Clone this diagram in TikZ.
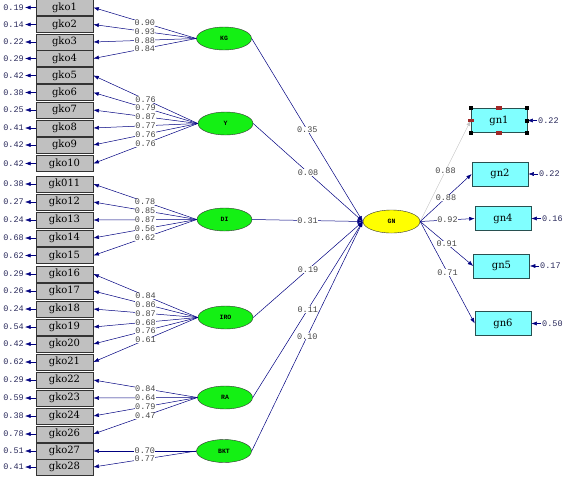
\documentclass[tikz,border=0pt]{standalone}
\usepackage{fontspec}
\setmainfont{DejaVu Serif}
\newfontfamily\numfont{Liberation Mono}
\usetikzlibrary{shapes.geometric,arrows.meta}
\definecolor{pathblue}{RGB}{0,0,128}
\definecolor{boxgray}{RGB}{192,192,192}
\definecolor{latgreen}{RGB}{20,240,20}
\definecolor{gnyellow}{RGB}{255,255,0}
\definecolor{gncyan}{RGB}{128,255,255}
\definecolor{coefgray}{RGB}{70,70,70}
\definecolor{errblue}{RGB}{40,40,90}
\definecolor{handlered}{RGB}{160,40,40}
\begin{document}
\begin{tikzpicture}[x=1pt, y=-1pt,
    obs/.style = {draw=black!80, line width=0.8pt, fill=boxgray, minimum width=57pt, minimum height=16pt, inner sep=0pt, font=\fontsize{10}{10}\selectfont},
    outv/.style = {draw={rgb,255:red,40;green,80;blue,80}, line width=0.6pt, fill=gncyan, minimum width=56pt, minimum height=24pt, inner sep=0pt, font=\fontsize{10}{10}\selectfont},
    lat/.style = {draw=black!80, ellipse, fill=latgreen, minimum width=55pt, minimum height=23pt, inner sep=0pt, font=\numfont\bfseries\fontsize{6.5}{6.5}\selectfont},
    err/.style = {text=errblue, inner sep=1pt, font=\numfont\fontsize{8.5}{8.5}\selectfont},
    coef/.style = {fill=white, text=coefgray, inner sep=0.3pt, font=\numfont\fontsize{8.5}{8.5}\selectfont},
    load/.style = {draw=pathblue, line width=0.5pt, -{Latex[length=5.5pt,width=4pt]}}]

    \useasboundingbox (0,0) rectangle (572,480);

    % indicators
    \node[obs] (gko1) at (64.5,7.5) {gko1};
    \node[obs] (gko2) at (64.5,24.5) {gko2};
    \node[obs] (gko3) at (64.5,42) {gko3};
    \node[obs] (gko4) at (64.5,58.5) {gko4};
    \node[obs] (gko5) at (64.5,75.5) {gko5};
    \node[obs] (gko6) at (64.5,92.5) {gko6};
    \node[obs] (gko7) at (64.5,110) {gko7};
    \node[obs] (gko8) at (64.5,128) {gko8};
    \node[obs] (gko9) at (64.5,145) {gko9};
    \node[obs] (gko10) at (64.5,163.5) {gko10};
    \node[obs] (gk011) at (64.5,184) {gk011};
    \node[obs] (gko12) at (64.5,202) {gko12};
    \node[obs] (gko13) at (64.5,220) {gko13};
    \node[obs] (gko14) at (64.5,238) {gko14};
    \node[obs] (gko15) at (64.5,255.5) {gko15};
    \node[obs] (gko16) at (64.5,274) {gko16};
    \node[obs] (gko17) at (64.5,291) {gko17};
    \node[obs] (gko18) at (64.5,309) {gko18};
    \node[obs] (gko19) at (64.5,327) {gko19};
    \node[obs] (gko20) at (64.5,344) {gko20};
    \node[obs] (gko21) at (64.5,362) {gko21};
    \node[obs] (gko22) at (64.5,380) {gko22};
    \node[obs] (gko23) at (64.5,398) {gko23};
    \node[obs] (gko24) at (64.5,416) {gko24};
    \node[obs] (gko26) at (64.5,434) {gko26};
    \node[obs] (gko27) at (64.5,451) {gko27};
    \node[obs] (gko28) at (64.5,467) {gko28};

    % error variances
    \node[err, anchor=east] (e1) at (25,7.5) {0.19};
    \node[err, anchor=east] (e2) at (25,24.5) {0.14};
    \node[err, anchor=east] (e3) at (25,42) {0.22};
    \node[err, anchor=east] (e4) at (25,58.5) {0.29};
    \node[err, anchor=east] (e5) at (25,75.5) {0.42};
    \node[err, anchor=east] (e6) at (25,92.5) {0.38};
    \node[err, anchor=east] (e7) at (25,110) {0.25};
    \node[err, anchor=east] (e8) at (25,128) {0.41};
    \node[err, anchor=east] (e9) at (25,145) {0.42};
    \node[err, anchor=east] (e10) at (25,163.5) {0.42};
    \node[err, anchor=east] (e11) at (25,184) {0.38};
    \node[err, anchor=east] (e12) at (25,202) {0.27};
    \node[err, anchor=east] (e13) at (25,220) {0.24};
    \node[err, anchor=east] (e14) at (25,238) {0.68};
    \node[err, anchor=east] (e15) at (25,255.5) {0.62};
    \node[err, anchor=east] (e16) at (25,274) {0.29};
    \node[err, anchor=east] (e17) at (25,291) {0.26};
    \node[err, anchor=east] (e18) at (25,309) {0.24};
    \node[err, anchor=east] (e19) at (25,327) {0.54};
    \node[err, anchor=east] (e20) at (25,344) {0.42};
    \node[err, anchor=east] (e21) at (25,362) {0.62};
    \node[err, anchor=east] (e22) at (25,380) {0.29};
    \node[err, anchor=east] (e23) at (25,398) {0.59};
    \node[err, anchor=east] (e24) at (25,416) {0.38};
    \node[err, anchor=east] (e26) at (25,434) {0.78};
    \node[err, anchor=east] (e27) at (25,451) {0.51};
    \node[err, anchor=east] (e28) at (25,467) {0.41};

    \draw[load] (gko1.west) -- (e1.east);
    \draw[load] (gko2.west) -- (e2.east);
    \draw[load] (gko3.west) -- (e3.east);
    \draw[load] (gko4.west) -- (e4.east);
    \draw[load] (gko5.west) -- (e5.east);
    \draw[load] (gko6.west) -- (e6.east);
    \draw[load] (gko7.west) -- (e7.east);
    \draw[load] (gko8.west) -- (e8.east);
    \draw[load] (gko9.west) -- (e9.east);
    \draw[load] (gko10.west) -- (e10.east);
    \draw[load] (gk011.west) -- (e11.east);
    \draw[load] (gko12.west) -- (e12.east);
    \draw[load] (gko13.west) -- (e13.east);
    \draw[load] (gko14.west) -- (e14.east);
    \draw[load] (gko15.west) -- (e15.east);
    \draw[load] (gko16.west) -- (e16.east);
    \draw[load] (gko17.west) -- (e17.east);
    \draw[load] (gko18.west) -- (e18.east);
    \draw[load] (gko19.west) -- (e19.east);
    \draw[load] (gko20.west) -- (e20.east);
    \draw[load] (gko21.west) -- (e21.east);
    \draw[load] (gko22.west) -- (e22.east);
    \draw[load] (gko23.west) -- (e23.east);
    \draw[load] (gko24.west) -- (e24.east);
    \draw[load] (gko26.west) -- (e26.east);
    \draw[load] (gko27.west) -- (e27.east);
    \draw[load] (gko28.west) -- (e28.east);

    % latent variables
    \node[lat] (KG) at (224,38.5) {KG};
    \node[lat] (Y) at (225.5,123.5) {Y};
    \node[lat] (DI) at (224.5,219.5) {DI};
    \node[lat] (IRO) at (225.5,317.5) {IRO};
    \node[lat] (RA) at (225,397.5) {RA};
    \node[lat] (BKT) at (224,451) {BKT};
    \node[lat, fill=gnyellow, minimum width=57pt] (GN) at (391.5,221.5) {GN};

    \draw[load] (KG.west) -- node[coef] {0.90} (gko1.east);
    \draw[load] (KG.west) -- node[coef] {0.93} (gko2.east);
    \draw[load] (KG.west) -- node[coef] {0.88} (gko3.east);
    \draw[load] (KG.west) -- node[coef] {0.84} (gko4.east);

    \draw[load] (Y.west) -- node[coef] {0.76} (gko5.east);
    \draw[load] (Y.west) -- node[coef] {0.79} (gko6.east);
    \draw[load] (Y.west) -- node[coef] {0.87} (gko7.east);
    \draw[load] (Y.west) -- node[coef] {0.77} (gko8.east);
    \draw[load] (Y.west) -- node[coef] {0.76} (gko9.east);
    \draw[load] (Y.west) -- node[coef] {0.76} (gko10.east);

    \draw[load] (DI.west) -- node[coef] {0.78} (gk011.east);
    \draw[load] (DI.west) -- node[coef] {0.85} (gko12.east);
    \draw[load] (DI.west) -- node[coef] {0.87} (gko13.east);
    \draw[load] (DI.west) -- node[coef] {0.56} (gko14.east);
    \draw[load] (DI.west) -- node[coef] {0.62} (gko15.east);

    \draw[load] (IRO.west) -- node[coef] {0.84} (gko16.east);
    \draw[load] (IRO.west) -- node[coef] {0.86} (gko17.east);
    \draw[load] (IRO.west) -- node[coef] {0.87} (gko18.east);
    \draw[load] (IRO.west) -- node[coef] {0.68} (gko19.east);
    \draw[load] (IRO.west) -- node[coef] {0.76} (gko20.east);
    \draw[load] (IRO.west) -- node[coef] {0.61} (gko21.east);

    \draw[load] (RA.west) -- node[coef] {0.84} (gko22.east);
    \draw[load] (RA.west) -- node[coef] {0.64} (gko23.east);
    \draw[load] (RA.west) -- node[coef] {0.79} (gko24.east);
    \draw[load] (RA.west) -- node[coef] {0.47} (gko26.east);

    \draw[load] (BKT.west) -- node[coef] {0.70} (gko27.east);
    \draw[load] (BKT.west) -- node[coef] {0.77} (gko28.east);

    % structural paths
    \draw[load] (KG.east) -- node[coef] {0.35} (GN.west);
    \draw[load] (Y.east) -- node[coef] {0.08} (GN.west);
    \draw[load] (DI.east) -- node[coef] {0.31} (GN.west);
    \draw[load] (IRO.east) -- node[coef] {0.19} (GN.west);
    \draw[load] (RA.east) -- node[coef] {0.11} (GN.west);
    \draw[load] (BKT.east) -- node[coef] {0.10} (GN.west);

    % outcome indicators
    \node[outv] (gn1) at (499,120.5) {gn1};
    \node[outv] (gn2) at (500,174) {gn2};
    \node[outv] (gn4) at (503,218.5) {gn4};
    \node[outv] (gn5) at (501.5,266) {gn5};
    \node[outv] (gn6) at (503,323.5) {gn6};

    \draw[load, draw=gray!45] (GN.east) -- node[coef] {0.88} (gn1.west);
    \draw[load] (GN.east) -- node[coef] {0.88} (gn2.west);
    \draw[load] (GN.east) -- node[coef] {0.92} (gn4.west);
    \draw[load] (GN.east) -- node[coef] {0.91} (gn5.west);
    \draw[load] (GN.east) -- node[coef] {0.71} (gn6.west);

    \node[err, anchor=west] (d1) at (537,120.5) {0.22};
    \node[err, anchor=west] (d2) at (538,174) {0.22};
    \node[err, anchor=west] (d4) at (541,218.5) {0.16};
    \node[err, anchor=west] (d5) at (539,266) {0.17};
    \node[err, anchor=west] (d6) at (541,323.5) {0.50};

    \draw[load] (d1.west) -- (gn1.east);
    \draw[load] (d2.west) -- (gn2.east);
    \draw[load] (d4.west) -- (gn4.east);
    \draw[load] (d5.west) -- (gn5.east);
    \draw[load] (d6.west) -- (gn6.east);

    % selection handles on gn1
    \foreach \a in {north west, north east, south west, south east, east}
        \fill[black] (gn1.\a) +(-2,-2) rectangle +(2,2);
    \foreach \a in {north, south, west}
        \fill[handlered] (gn1.\a) +(-3,-1.8) rectangle +(3,1.8);

\end{tikzpicture}
\end{document}
